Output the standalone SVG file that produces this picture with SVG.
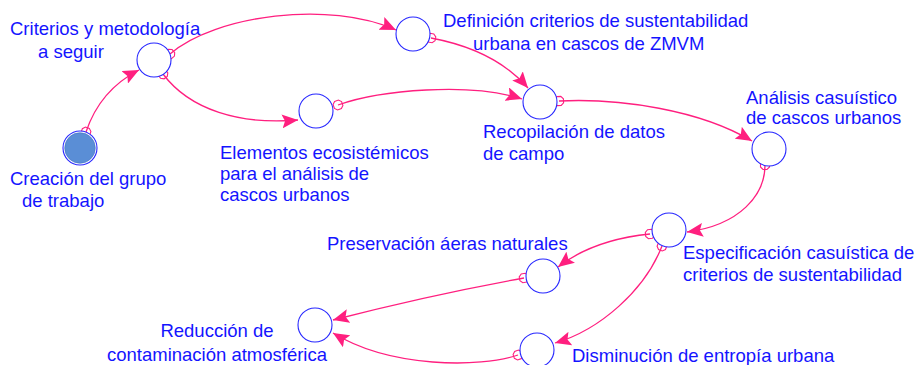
<svg xmlns="http://www.w3.org/2000/svg" width="917" height="365" viewBox="0 0 917 365">
<style>
.lbl{font-family:"Liberation Sans",Arial,sans-serif;font-size:18.5px;fill:#1414ff}
.nd{fill:#fff;stroke:#2828ff;stroke-width:1.1}
.cn{fill:none;stroke:#ff1f7f;stroke-width:1.3;marker-start:url(#tail);marker-end:url(#head)}
</style>
<defs>
<marker id="head" markerUnits="userSpaceOnUse" markerWidth="18" markerHeight="14" refX="16" refY="7" orient="auto" viewBox="0 0 18 14">
<path d="M0,0 L16,7 L0,14 L3,7 Z" fill="#ff1f7f"/>
</marker>
<marker id="tail" markerUnits="userSpaceOnUse" markerWidth="12" markerHeight="12" refX="6" refY="6" orient="auto" viewBox="0 0 12 12">
<polygon points="4,1.5 8,1.5 10.5,4 10.5,8 8,10.5 4,10.5 1.5,8 1.5,4" fill="none" stroke="#ff1f7f" stroke-width="1.1"/>
</marker>
</defs>
<rect width="917" height="365" fill="#fff"/>
<g id="connectors">
<path class="cn" d="M86,132 Q100,90 139,70"/>
<path class="cn" d="M170,54 C215,15 330,0 396,30"/>
<path class="cn" d="M163,74 C190,110 240,125 298,120"/>
<path class="cn" d="M338,105 C380,90 470,82 522,99"/>
<path class="cn" d="M431,38 Q495,50 528,88"/>
<path class="cn" d="M559,101 C620,98 700,110 752,141"/>
<path class="cn" d="M765,165 C765,195 740,225 687,232"/>
<path class="cn" d="M650,234 C610,238 580,250 558,267"/>
<path class="cn" d="M662,246 C645,290 600,330 555,343"/>
<path class="cn" d="M524,278 Q430,295 333,320"/>
<path class="cn" d="M518,355 C480,368 390,368 333,333"/>
</g>
<g id="n-creacion">
<circle cx="80" cy="148" r="17" class="nd"/>
<circle cx="80" cy="148" r="15.3" fill="#5a8ed6" stroke="#3f70c4" stroke-width="0.6"/>
<text class="lbl" x="10" y="185">Creación del grupo</text>
<text class="lbl" x="22" y="207">de trabajo</text>
</g>
<g id="n-criterios">
<circle cx="154" cy="60" r="17" class="nd"/>
<text class="lbl" x="10" y="35">Criterios y metodología</text>
<text class="lbl" x="38" y="58">a seguir</text>
</g>
<g id="n-definicion">
<circle cx="413" cy="34" r="17" class="nd"/>
<text class="lbl" x="443" y="27">Definición criterios de sustentabilidad</text>
<text class="lbl" x="473" y="50">urbana en cascos de ZMVM</text>
</g>
<g id="n-elementos">
<circle cx="316" cy="111" r="17" class="nd"/>
<text class="lbl" x="220" y="159">Elementos ecosistémicos</text>
<text class="lbl" x="220" y="180">para el análisis de</text>
<text class="lbl" x="220" y="201">cascos urbanos</text>
</g>
<g id="n-recopilacion">
<circle cx="540" cy="102" r="17" class="nd"/>
<text class="lbl" x="483" y="138">Recopilación de datos</text>
<text class="lbl" x="483" y="160">de campo</text>
</g>
<g id="n-analisis">
<circle cx="769" cy="149" r="17" class="nd"/>
<text class="lbl" x="746" y="104">Análisis casuístico</text>
<text class="lbl" x="746" y="124">de cascos urbanos</text>
</g>
<g id="n-especificacion">
<circle cx="669" cy="230" r="17" class="nd"/>
<text class="lbl" x="683" y="259">Especificación casuística de</text>
<text class="lbl" x="683" y="281">criterios de sustentabilidad</text>
</g>
<g id="n-preservacion">
<circle cx="543" cy="276" r="17" class="nd"/>
<text class="lbl" x="327" y="250">Preservación áeras naturales</text>
</g>
<g id="n-reduccion">
<circle cx="315" cy="325" r="17" class="nd"/>
<text class="lbl" x="217" y="337" text-anchor="middle">Reducción de</text>
<text class="lbl" x="217" y="361" text-anchor="middle">contaminación atmosférica</text>
</g>
<g id="n-disminucion">
<circle cx="537" cy="350" r="17" class="nd"/>
<text class="lbl" x="572" y="362">Disminución de entropía urbana</text>
</g>
</svg>
